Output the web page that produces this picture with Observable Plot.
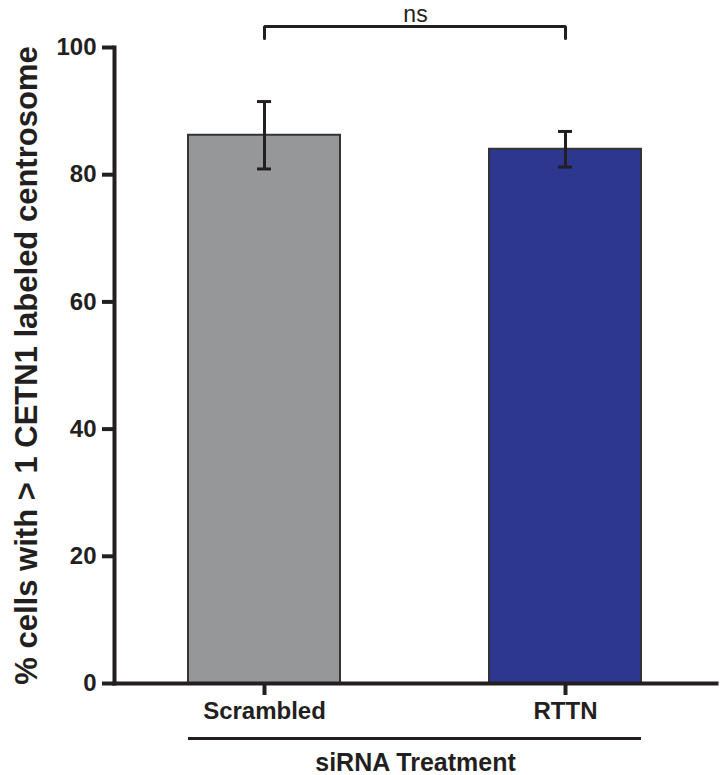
<!DOCTYPE html>
<html>
<head>
<meta charset="utf-8">
<script src="https://cdn.jsdelivr.net/npm/d3@7"></script>
<script src="https://cdn.jsdelivr.net/npm/@observablehq/plot@0.6"></script>
<style>
  html, body { margin: 0; padding: 0; background: #ffffff; }
  #chart { width: 720px; height: 775px; }
</style>
</head>
<body>
<div id="chart"></div>
<script>
// ---- data ----
const categories = ["Scrambled", "RTTN"];
const means = [86.2, 84.0];
const errors = [5.3, 2.8];
const barColors = ["#969799", "#2e378f"];
const yTicks = [0, 20, 40, 60, 80, 100];
const yTitle = "% cells with > 1 CETN1 labeled centrosome";
const xTitle = "siRNA Treatment";
const sigLabel = "ns";
const bracketTop = 103.3;
const bracketFoot = 101.4;
const groupLineLevel = -8.65;

const data = categories.map((c, i) => ({
  category: c,
  mean: means[i],
  lo: means[i] - errors[i],
  hi: means[i] + errors[i]
}));
const bracket = [
  {category: categories[0], y: bracketFoot},
  {category: categories[0], y: bracketTop},
  {category: categories[1], y: bracketTop},
  {category: categories[1], y: bracketFoot}
];
const groupLine = [{y: groupLineLevel, a: categories[0], b: categories[categories.length - 1]}];

const ink = "#231f20";

const chart = Plot.plot({
  width: 720,
  height: 775,
  marginLeft: 114,
  marginRight: 4,
  marginTop: 47,
  marginBottom: 92,
  style: {fontFamily: "'Liberation Sans', Arial, sans-serif", color: ink, background: "white", overflow: "visible"},
  x: {domain: categories, paddingInner: 0.495, paddingOuter: 0.246, label: null},
  y: {domain: [0, 100], label: null},
  color: {domain: categories, range: barColors},
  marks: [
    Plot.barY(data, {x: "category", y: "mean", fill: "category", stroke: "#333333", strokeWidth: 2}),
    Plot.ruleX(data, {x: "category", y1: "lo", y2: "hi", stroke: ink, strokeWidth: 3}),
    Plot.tickY(data, {x: "category", y: "lo", stroke: ink, strokeWidth: 3, insetLeft: 69, insetRight: 69}),
    Plot.tickY(data, {x: "category", y: "hi", stroke: ink, strokeWidth: 3, insetLeft: 69, insetRight: 69}),
    Plot.axisY({ticks: yTicks, tickSize: 12, tickPadding: 6, strokeWidth: 4, fontSize: 24, fontWeight: "bold", label: null, stroke: ink, fill: ink}),
    Plot.axisX({tickSize: 12, tickPadding: 6, strokeWidth: 4, fontSize: 24, fontWeight: "bold", label: null, stroke: ink, fill: ink}),
    Plot.frame({anchor: "left", stroke: ink, strokeWidth: 4}),
    Plot.frame({anchor: "bottom", stroke: ink, strokeWidth: 4}),
    Plot.ruleY(groupLine, {y: "y", x1: "a", x2: "b", stroke: ink, strokeWidth: 3}),
    Plot.line(bracket, {x: "category", y: "y", stroke: ink, strokeWidth: 3, strokeLinejoin: "miter", curve: "linear"}),
    Plot.text([sigLabel], {frameAnchor: "top", dy: -33, lineAnchor: "middle", fontSize: 23, fill: ink}),
    Plot.text([xTitle], {frameAnchor: "bottom", dy: 79, lineAnchor: "middle", fontSize: 25, fontWeight: "bold", fill: ink}),
    Plot.text([yTitle], {frameAnchor: "left", dx: -87, rotate: -90, textAnchor: "middle", lineAnchor: "middle", fontSize: 31, fontWeight: "bold", fill: ink})
  ]
});
document.getElementById("chart").appendChild(chart);
</script>
</body>
</html>
